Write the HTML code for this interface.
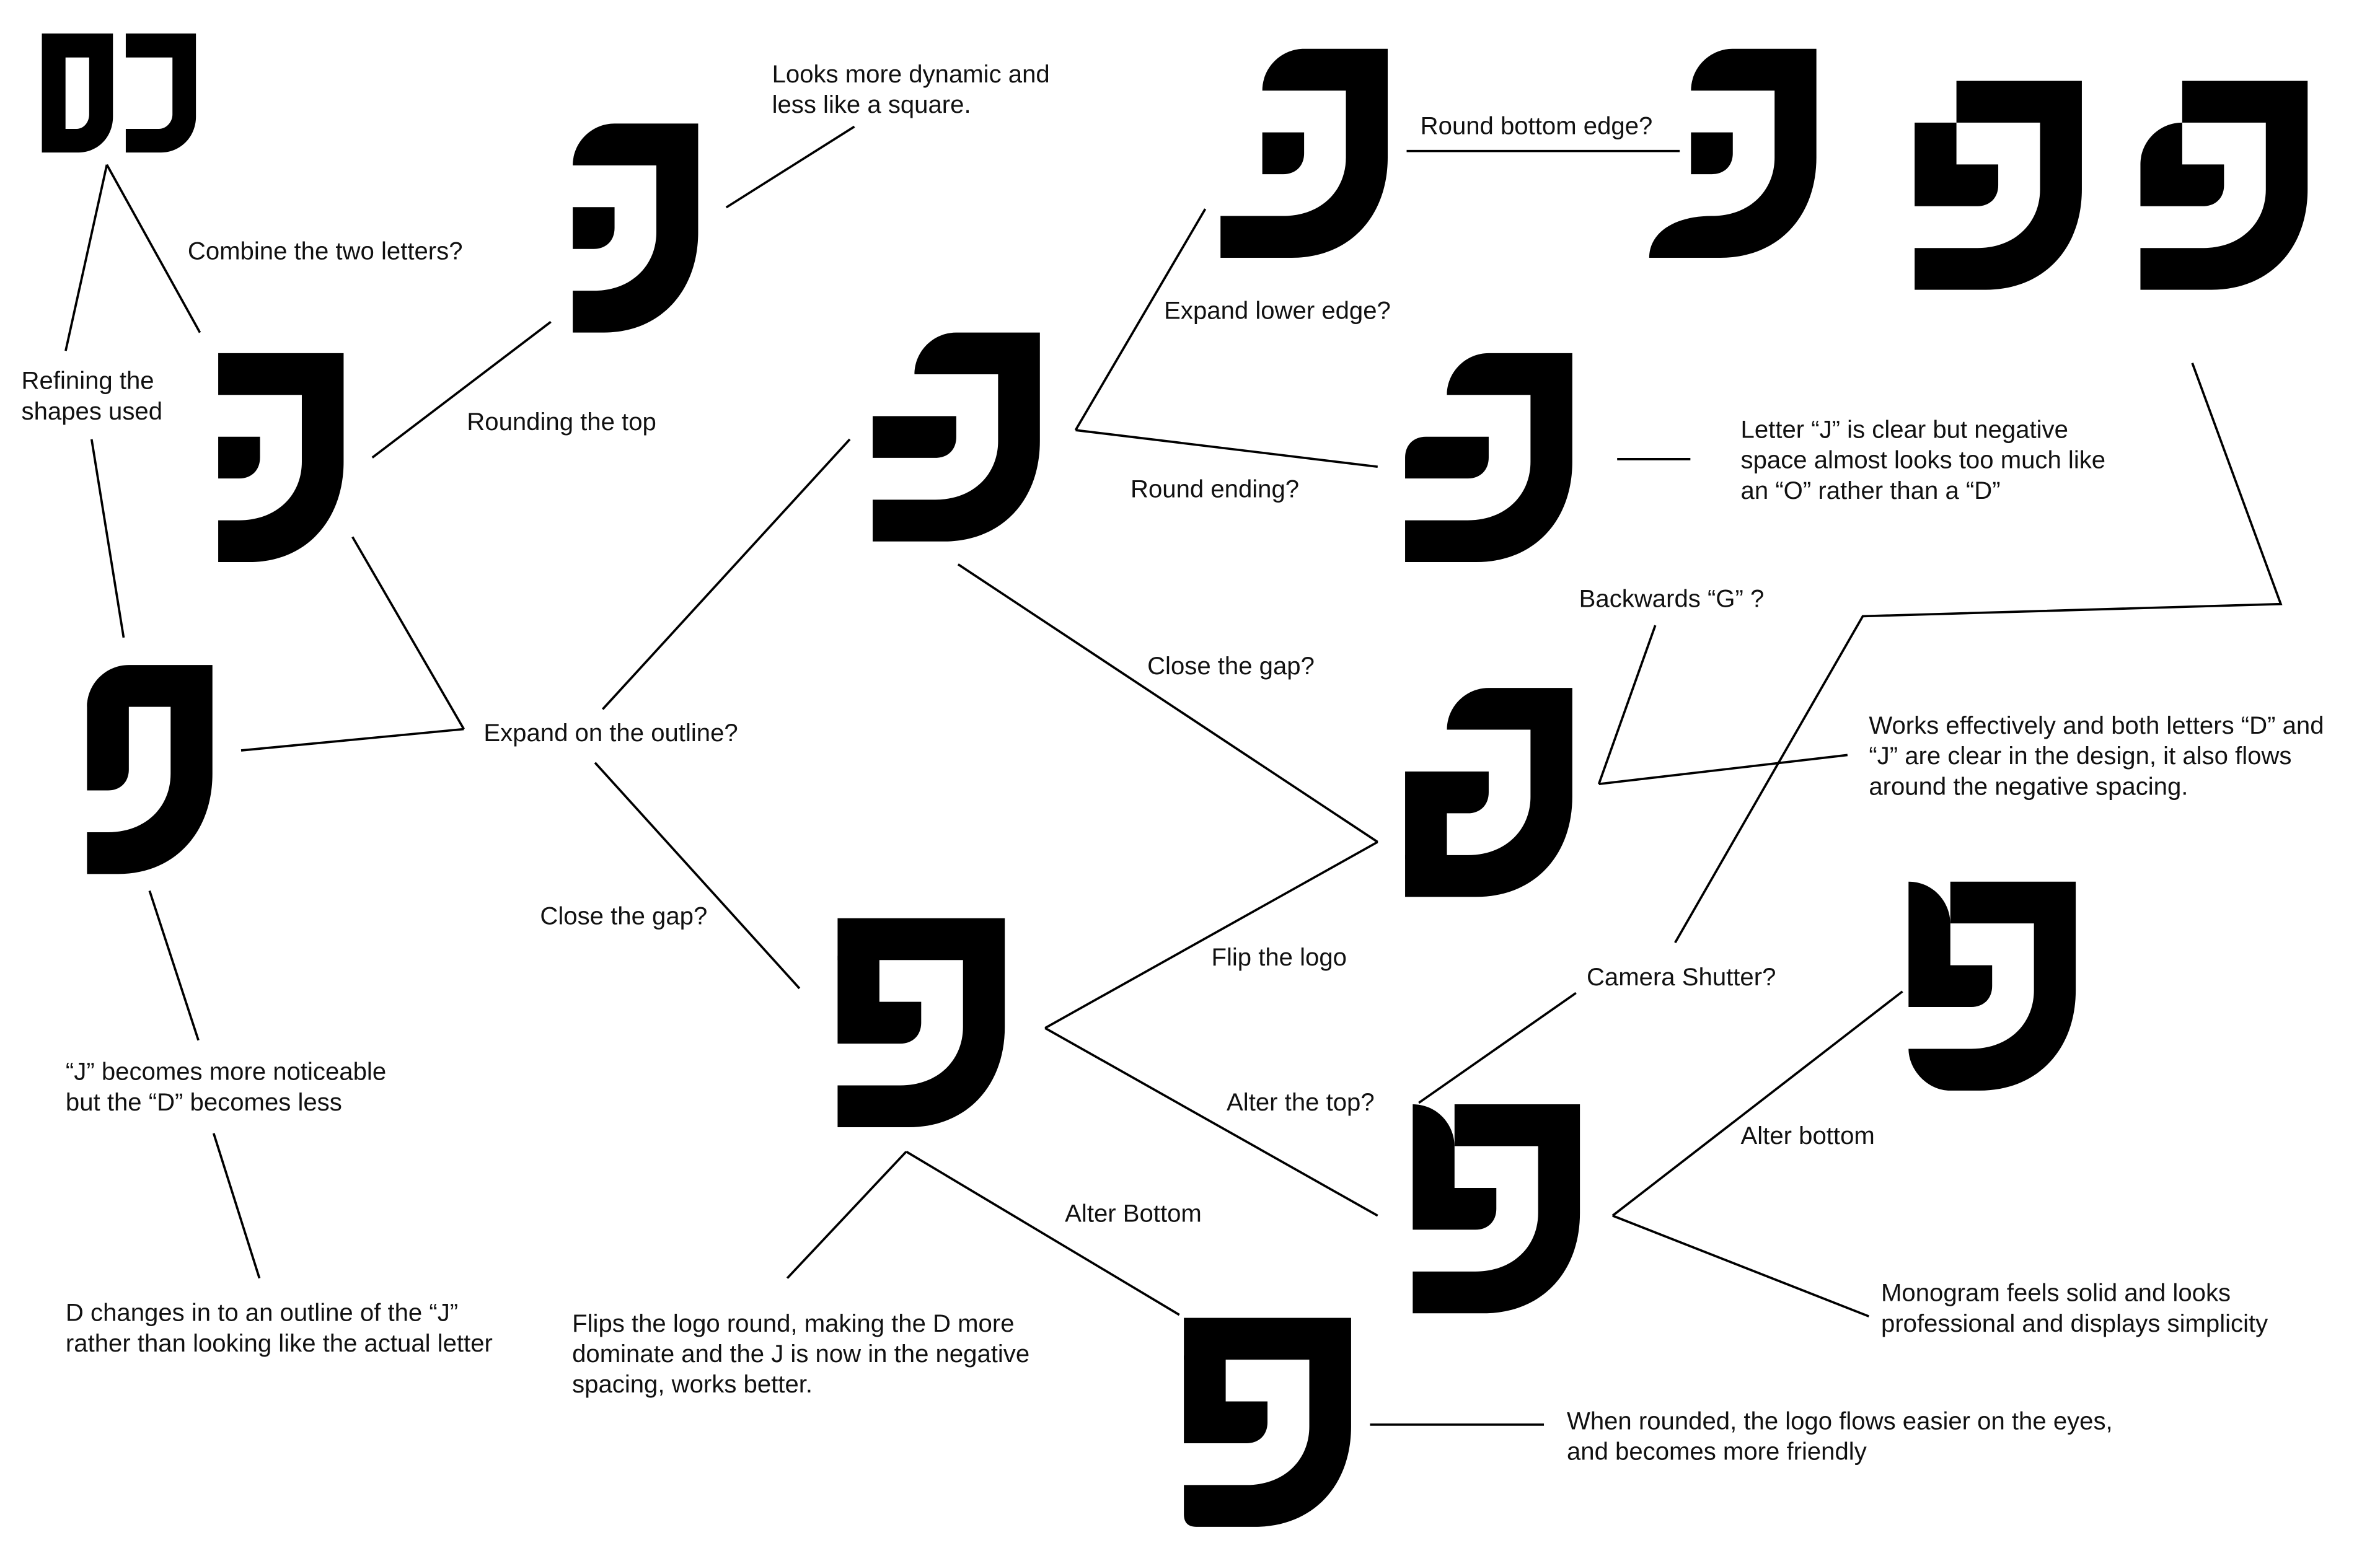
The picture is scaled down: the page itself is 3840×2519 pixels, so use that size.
<!DOCTYPE html>
<html><head><meta charset="utf-8"><style>
html,body{margin:0;padding:0;background:#fff;}
svg{display:block;}
text{font-family:"Liberation Sans",sans-serif;font-size:16.3px;fill:#111;}
</style></head><body>
<svg width="3840" height="2519" viewBox="0 0 1560 1023.4" xmlns="http://www.w3.org/2000/svg">
<rect width="1560" height="1023.4" fill="#fff"/>
<path d="M27.4,22 H74 V76.5 C74,90 64,100 51.3,100 H27.4 Z M42.9,37.7 V84.5 H50 C55,84.5 58.4,80 58.4,75 V37.7 Z" fill="#000" fill-rule="evenodd"/>
<path d="M82.4,22 H128.4 V76.5 C128.4,90 118,100 105.5,100 H82.4 V84.5 H104 C109,84.5 113,80 113,75 V37.7 H82.4 Z" fill="#000"/>

<g fill="#000">
<g transform="translate(115.6,231.5) scale(27.4)">
<path d="M1,0 H4 V2.6 C4,4 3.1,5 1.75,5 H1 V4 H1.5 C2.4,4 3,3.4 3,2.6 V1 H1 Z"/>
<path d="M1,2 H2 V2.5 C2,2.8 1.8,3 1.5,3 H1 Z"/></g>
<g transform="translate(348,81) scale(27.4)">
<path d="M1,1 C1,0.45 1.45,0 2,0 H4 V2.6 C4,4 3.1,5 1.75,5 H1 V4 H1.5 C2.4,4 3,3.4 3,2.6 V1 Z"/>
<path d="M1,2 H2 V2.5 C2,2.8 1.8,3 1.5,3 H1 Z"/></g>
<g transform="translate(29.6,436) scale(27.4)">
<path d="M1,1 C1,0.45 1.45,0 2,0 H4 V2.6 C4,4 3.1,5 1.75,5 H1 V4 H1.5 C2.4,4 3,3.4 3,2.6 V1 Z"/>
<path d="M1,0.9 H2 V2.5 C2,2.8 1.8,3 1.5,3 H1 Z"/></g>
<g transform="translate(572,218) scale(27.4)">
<path d="M1,1 C1,0.45 1.45,0 2,0 H4 V2.6 C4,4 3.1,5 1.7,5 H0 V4 H1.5 C2.4,4 3,3.4 3,2.6 V1 Z"/>
<path d="M0,2 H2 V2.5 C2,2.8 1.8,3 1.5,3 H0 Z"/></g>
<g transform="translate(800,32) scale(27.4)">
<path d="M1,1 C1,0.45 1.45,0 2,0 H4 V2.6 C4,4 3.1,5 1.7,5 H0 V4 H1.5 C2.4,4 3,3.4 3,2.6 V1 Z"/>
<path d="M1,2 H2 V2.5 C2,2.8 1.8,3 1.5,3 H1 Z"/></g>
<g transform="translate(1081,32) scale(27.4)">
<path d="M1,1 C1,0.45 1.45,0 2,0 H4 V2.6 C4,4 3.1,5 1.7,5 H0 C0,4.4 0.6,4 1.5,4 C2.4,4 3,3.4 3,2.6 V1 Z"/>
<path d="M1,2 H2 V2.5 C2,2.8 1.8,3 1.5,3 H1 Z"/></g>
<g transform="translate(1255,53) scale(27.4)">
<path d="M1,0 H4 V2.6 C4,4 3.1,5 1.7,5 H0 V4 H1.5 C2.4,4 3,3.4 3,2.6 V1 H1 Z"/>
<path d="M0,1 H1 V2 H2 V2.5 C2,2.8 1.8,3 1.5,3 H0 Z"/></g>
<g transform="translate(1403,53) scale(27.4)">
<path d="M1,0 H4 V2.6 C4,4 3.1,5 1.7,5 H0 V4 H1.5 C2.4,4 3,3.4 3,2.6 V1 H1 Z"/>
<path d="M0,3 V2 C0,1.45 0.45,1 1,1 V2 H2 V2.5 C2,2.8 1.8,3 1.5,3 Z"/></g>
<g transform="translate(921,231.5) scale(27.4)">
<path d="M1,1 C1,0.45 1.45,0 2,0 H4 V2.6 C4,4 3.1,5 1.7,5 H0 V4 H1.5 C2.4,4 3,3.4 3,2.6 V1 Z"/>
<path d="M0,2.5 C0,2.2 0.2,2 0.5,2 H2 V2.5 C2,2.8 1.8,3 1.5,3 H0 Z"/></g>
<g transform="translate(921,451) scale(27.4)">
<path d="M1,1 C1,0.45 1.45,0 2,0 H4 V2.6 C4,4 3.1,5 1.7,5 H0 V4 H1.5 C2.4,4 3,3.4 3,2.6 V1 Z"/>
<path d="M0,2 H2 V2.5 C2,2.8 1.8,3 1.5,3 H1 V4.1 H0 Z"/></g>
<g transform="translate(549,602) scale(27.4)">
<path d="M0,0 H4 V2.6 C4,4 3.1,5 1.7,5 H0 V4 H1.5 C2.4,4 3,3.4 3,2.6 V1 H0 Z"/>
<path d="M0,0.9 H1 V2 H2 V2.5 C2,2.8 1.8,3 1.5,3 H0 Z"/></g>
<g transform="translate(776,864) scale(27.4)">
<path d="M0,0 H4 V2.6 C4,4 3.1,5 1.7,5 H0.3 C0.1,5 0,4.9 0,4.7 V4 H1.5 C2.4,4 3,3.4 3,2.6 V1 H0 Z"/>
<path d="M0,0.9 H1 V2 H2 V2.5 C2,2.8 1.8,3 1.5,3 H0 Z"/></g>
<g transform="translate(926,724) scale(27.4)">
<path d="M1,0 H4 V2.6 C4,4 3.1,5 1.7,5 H0 V4 H1.5 C2.4,4 3,3.4 3,2.6 V1 H1 Z"/>
<path d="M0,0 C0.6,0 1,0.5 1,1 V2 H2 V2.5 C2,2.8 1.8,3 1.5,3 H0 Z"/></g>
<g transform="translate(1251,578) scale(27.4)">
<path d="M1,0 H4 V2.6 C4,4 3.1,5 1.7,5 H1 C0.45,5 0,4.5 0,4 H1.5 C2.4,4 3,3.4 3,2.6 V1 H1 Z"/>
<path d="M0,0 C0.6,0 1,0.5 1,1 V2 H2 V2.5 C2,2.8 1.8,3 1.5,3 H0 Z"/></g>
</g>

<g stroke="#000" stroke-width="1.5" fill="none">
<line x1="70" y1="108" x2="43" y2="230"/>
<line x1="70" y1="108" x2="131" y2="218"/>
<line x1="60" y1="288" x2="81" y2="418"/>
<line x1="244" y1="300" x2="361" y2="211"/>
<line x1="476" y1="136" x2="560" y2="83"/>
<line x1="231" y1="352" x2="304" y2="478"/>
<line x1="158" y1="492" x2="304" y2="478"/>
<line x1="395" y1="465" x2="557" y2="288"/>
<line x1="390" y1="500" x2="524" y2="648"/>
<line x1="98" y1="584" x2="130" y2="682"/>
<line x1="140" y1="743" x2="170" y2="838"/>
<line x1="705" y1="282" x2="790" y2="137"/>
<line x1="705" y1="282" x2="903" y2="306"/>
<line x1="922" y1="99" x2="1101" y2="99"/>
<line x1="1060" y1="301" x2="1108" y2="301"/>
<line x1="628" y1="370" x2="903" y2="552"/>
<line x1="685" y1="674" x2="903" y2="552"/>
<line x1="685" y1="674" x2="903" y2="797"/>
<line x1="516" y1="838" x2="594" y2="755"/>
<line x1="594" y1="755" x2="773" y2="862"/>
<line x1="898" y1="934" x2="1012" y2="934"/>
<line x1="930" y1="723" x2="1033" y2="651"/>
<line x1="1057" y1="797" x2="1247" y2="650"/>
<line x1="1057" y1="797" x2="1225" y2="863"/>
<line x1="1048" y1="514" x2="1085" y2="410"/>
<line x1="1048" y1="514" x2="1211" y2="495"/>
<polyline points="1437,238 1495,396 1221,404 1098,618"/>
</g>

<g>
<text x="506" y="54">Looks more dynamic and</text>
<text x="506" y="74">less like a square.</text>
<text x="123" y="170">Combine the two letters?</text>
<text x="14" y="255">Refining the</text>
<text x="14" y="275">shapes used</text>
<text x="306" y="282">Rounding the top</text>
<text x="931" y="88">Round bottom edge?</text>
<text x="763" y="209">Expand lower edge?</text>
<text x="741" y="326">Round ending?</text>
<text x="1141" y="287">Letter “J” is clear but negative</text>
<text x="1141" y="307">space almost looks too much like</text>
<text x="1141" y="327">an “O” rather than a “D”</text>
<text x="1035" y="398">Backwards “G” ?</text>
<text x="752" y="442">Close the gap?</text>
<text x="317" y="486">Expand on the outline?</text>
<text x="1225" y="481">Works effectively and both letters “D” and</text>
<text x="1225" y="501">“J” are clear in the design, it also flows</text>
<text x="1225" y="521">around the negative spacing.</text>
<text x="354" y="606">Close the gap?</text>
<text x="794" y="633">Flip the logo</text>
<text x="1040" y="646">Camera Shutter?</text>
<text x="43" y="708">“J” becomes more noticeable</text>
<text x="43" y="728">but the “D” becomes less</text>
<text x="804" y="728">Alter the top?</text>
<text x="1141" y="750">Alter bottom</text>
<text x="698" y="801">Alter Bottom</text>
<text x="1233" y="853">Monogram feels solid and looks</text>
<text x="1233" y="873">professional and displays simplicity</text>
<text x="43" y="866">D changes in to an outline of the “J”</text>
<text x="43" y="886">rather than looking like the actual letter</text>
<text x="375" y="873">Flips the logo round, making the D more</text>
<text x="375" y="893">dominate and the J is now in the negative</text>
<text x="375" y="913">spacing, works better.</text>
<text x="1027" y="937">When rounded, the logo flows easier on the eyes,</text>
<text x="1027" y="957">and becomes more friendly</text>
</g>
</svg>
</body></html>
